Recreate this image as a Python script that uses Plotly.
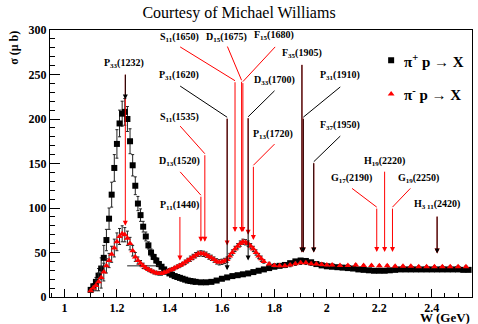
import plotly.graph_objects as go

# ---------------- data: pi+ p -> X (black squares) ----------------
W_pip = [1.10, 1.11, 1.12, 1.13, 1.14, 1.15, 1.16, 1.17, 1.18, 1.19,
         1.20, 1.21, 1.22, 1.23, 1.24, 1.25, 1.26, 1.27, 1.28, 1.29,
         1.30, 1.31, 1.32, 1.33, 1.34, 1.35, 1.36, 1.37, 1.38, 1.39,
         1.40, 1.41, 1.42, 1.43, 1.44, 1.45, 1.46, 1.47, 1.48, 1.49,
         1.50, 1.52, 1.54, 1.56, 1.58, 1.60, 1.62, 1.64, 1.66, 1.68,
         1.70, 1.72, 1.74, 1.76, 1.78, 1.80, 1.82, 1.84, 1.86, 1.88,
         1.90, 1.92, 1.94, 1.96, 1.98, 2.00, 2.02, 2.04, 2.06, 2.08,
         2.10, 2.12, 2.14, 2.16, 2.18, 2.20, 2.22, 2.24, 2.26, 2.28,
         2.30, 2.32, 2.34, 2.36, 2.38, 2.40, 2.42, 2.44, 2.46, 2.48,
         2.50, 2.52, 2.54]
sig_pip = [8, 12, 17, 24, 32, 44, 64, 88, 115, 145,
           172, 195, 206, 208, 200, 175, 148, 125, 105, 92,
           79, 68, 58, 50, 45, 41, 37, 34, 31, 28.5,
           26.5, 25, 23.5, 22.5, 21.5, 20.5, 19.5, 18.5, 18, 17.5,
           17, 16.5, 16.5, 17, 18.5, 20.5, 22, 23.5, 24.5, 25.5,
           26.5, 28, 29.5, 31, 32.5, 34, 35, 36, 38, 40,
           41, 40.5, 39, 37, 35.5, 34.5, 34, 33.5, 33, 32.5,
           32, 31, 30.5, 30, 29.5, 29.5, 29.5, 30, 30.5, 31,
           31, 31, 31, 31, 31, 31, 31, 31, 31, 31,
           31, 30.5, 30.5]
err_pip = [2, 3, 5, 8, 12, 14, 12, 12, 14, 15,
           16, 15, 14, 15, 14, 14, 12, 10, 8, 7,
           6, 5, 4, 4, 3, 3, 3, 2, 2, 2,
           2, 2, 2, 2, 2, 2, 2, 2, 1.5, 1.5,
           1.5, 1.5, 1.5, 1.5, 1.5, 1.5, 1.5, 1.5, 1.5, 1.5,
           1.5, 1.5, 1.5, 1.5, 1.5, 1.5, 1.5, 1.5, 1.5, 1.5,
           1.5, 1.5, 1.5, 1.5, 1.5, 1, 1, 1, 1, 1,
           1, 1, 1, 1, 1, 1, 1, 1, 1, 1,
           1, 1, 1, 1, 1, 1, 1, 1, 1, 1,
           1, 1, 1]

# ---------------- data: pi- p -> X (red triangles) ----------------
W_pim = [1.10, 1.11, 1.12, 1.13, 1.14, 1.15, 1.16, 1.17, 1.18, 1.19,
         1.20, 1.21, 1.22, 1.23, 1.24, 1.25, 1.26, 1.27, 1.28, 1.29,
         1.30, 1.31, 1.32, 1.33, 1.34, 1.35, 1.36, 1.37, 1.38, 1.39,
         1.40, 1.41, 1.42, 1.43, 1.44, 1.45, 1.46, 1.47, 1.48, 1.49,
         1.50, 1.51, 1.52, 1.53, 1.54, 1.55, 1.56, 1.57, 1.58, 1.59,
         1.60, 1.61, 1.62, 1.63, 1.64, 1.65, 1.66, 1.67, 1.68, 1.69,
         1.70, 1.71, 1.72, 1.73, 1.74, 1.75, 1.76, 1.78, 1.80, 1.82,
         1.84, 1.86, 1.88, 1.90, 1.92, 1.94, 1.96, 1.98, 2.00, 2.02,
         2.05, 2.08, 2.11, 2.14, 2.17, 2.20, 2.23, 2.26, 2.29, 2.32,
         2.35, 2.38, 2.41, 2.44, 2.47, 2.50, 2.53]
sig_pim = [7, 10, 13, 17, 22, 28, 35, 41, 48, 55,
           62, 68, 71, 70, 66, 60, 52, 45, 41, 38,
           35, 33, 31, 29.5, 28, 27, 26.5, 26.5, 27.5, 28.5,
           30, 31, 32.5, 34, 35.5, 37, 39, 41, 43, 45,
           47, 48.5, 49, 48.5, 47.5, 45.5, 44, 42, 40, 39,
           39.5, 40.5, 42, 46, 50, 54, 57, 60, 62, 61.5,
           60, 57, 54, 50, 46, 43, 40, 37, 35.5, 35,
           35, 36, 37.5, 38.5, 38.5, 37.5, 37, 36.5, 36, 36,
           35.5, 35.5, 36, 35.5, 35.5, 35, 35, 34.5, 34.5, 34.5,
           34, 34, 34, 34, 34, 34, 34]
err_pim = [2, 3, 6, 10, 12, 10, 8, 8, 9, 10,
           10, 9, 9, 8, 8, 7, 6, 5, 4, 3,
           3, 2, 2, 2, 2, 2, 2, 2, 2, 2,
           2, 2, 2, 2, 2, 2, 2.5, 2.5, 3, 3,
           3, 3, 3, 3, 3, 3, 3, 3, 3, 3,
           3, 3, 3, 3, 3, 3, 3, 3, 3, 3,
           3, 3, 3, 3, 3, 3, 2, 2, 2, 2,
           2, 2, 2, 2, 2, 2, 2, 2, 1.5, 1.5,
           1, 1, 1, 1, 1, 1, 1, 1, 1, 1,
           1, 1, 1, 1, 1, 1, 1]
errx_pim = [0.0] * 20 + [0.061] + [0.0] * 76

legend_text = ["π<sup>+</sup> p → X", "π<sup>-</sup> p → X"]

# ---------------- resonance labels ----------------
res_text = ["P<sub>33</sub>(1232)", "S<sub>11</sub>(1650)", "D<sub>15</sub>(1675)",
            "F<sub>15</sub>(1680)", "P<sub>31</sub>(1620)", "S<sub>11</sub>(1535)",
            "D<sub>13</sub>(1520)", "P<sub>11</sub>(1440)", "D<sub>33</sub>(1700)",
            "P<sub>13</sub>(1720)", "F<sub>35</sub>(1905)", "P<sub>31</sub>(1910)",
            "F<sub>37</sub>(1950)", "H<sub>19</sub>(2220)", "G<sub>17</sub>(2190)",
            "G<sub>19</sub>(2250)", "H<sub>3 11</sub>(2420)"]
res_mass = [1.232, 1.650, 1.675, 1.680, 1.620, 1.535, 1.520, 1.440, 1.700,
            1.720, 1.905, 1.910, 1.950, 2.220, 2.190, 2.250, 2.420]
res_color = ["black", "red", "red", "red", "black", "red", "red", "red", "black",
             "red", "black", "black", "black", "red", "red", "red", "black"]
res_label_W = [1.228, 1.437, 1.616, 1.800, 1.437, 1.437, 1.437, 1.437, 1.800,
               1.796, 1.906, 2.051, 2.051, 2.219, 2.093, 2.348, 2.421]
res_label_sig = [262.5, 292, 292, 294, 249, 202, 152.6, 103, 243.8,
                 183, 274, 249, 193, 152, 133, 133, 104]
res_start_W = [1.232, 1.441, 1.621, 1.803, 1.441, 1.441, 1.441, 1.440, 1.8006,
               1.8006, 1.905, 2.051, 2.051, 2.220, 2.096, 2.318, 2.420]
res_start_sig = [251.5, 281, 281.4, 281, 237, 192, 140.6, 91.6, 231.7,
                 171.8, 262.5, 236, 180.8, 142.5, 122, 122, 92]
res_bend_sig = [251.5, 243, 243.5, 242, 202, 161, 114.4, 91.6, 202.5,
                148, 262.5, 202, 152, 142.5, 101, 101, 92]
res_tip_red = [80, 73, 73, 73, 58, 62, 62, 41, 70,
               64, 50, 50, 50, 50.6, 50.6, 50.6, 49]
res_tip_black = [222, None, None, None, 30, None, None, None, 41,
                 None, 50, 50, 50, None, None, None, 49]

SERIF = "Liberation Serif"

fig = go.Figure()
fig.add_trace(go.Scatter(
    x=W_pip, y=sig_pip, mode="markers", name=" ",
    marker=dict(symbol="square", size=6, color="black"),
    error_y=dict(type="data", array=err_pip, color="#222", thickness=1, width=1.5),
    legendgroup="a", hoverinfo="skip"))
fig.add_trace(go.Scatter(
    x=W_pim, y=sig_pim, mode="markers", name=" ",
    marker=dict(symbol="triangle-up", size=6, color="#ff0000"),
    error_y=dict(type="data", array=err_pim, color="#222", thickness=1, width=1.5),
    error_x=dict(type="data", array=errx_pim, color="#222", thickness=1, width=0),
    legendgroup="b", hoverinfo="skip"))

shapes = []
annotations = []
for i in range(len(res_text)):
    col = "#ff0000" if res_color[i] == "red" else "black"
    annotations.append(dict(
        x=res_label_W[i], y=res_label_sig[i], xref="x", yref="y", text="<b>" + res_text[i] + "</b>",
        showarrow=False, xanchor="center", yanchor="middle",
        font=dict(family=SERIF, size=10, color="black")))
    if abs(res_start_W[i] - res_mass[i]) > 1e-6 or abs(res_start_sig[i] - res_bend_sig[i]) > 1e-6:
        shapes.append(dict(type="line", xref="x", yref="y",
                           x0=res_start_W[i], y0=res_start_sig[i],
                           x1=res_mass[i], y1=res_bend_sig[i],
                           line=dict(color=col, width=1)))
    tips = []
    if res_tip_red[i] is not None:
        tips.append((res_tip_red[i], "#ff0000"))
    if res_tip_black[i] is not None:
        tips.append((res_tip_black[i], "black"))
    for tip, c in tips:
        annotations.append(dict(
            x=res_mass[i], y=tip, ax=res_mass[i], ay=res_bend_sig[i],
            xref="x", yref="y", axref="x", ayref="y", text="",
            showarrow=True, arrowhead=2, arrowsize=1, arrowwidth=1,
            arrowcolor=c, standoff=0, startstandoff=0))

# legend texts (icons come from the plotly legend)
for txt, yp in zip(legend_text, [0.884, 0.760]):
    annotations.append(dict(x=0.835, y=yp, xref="paper", yref="paper", text="<b>" + txt + "</b>",
                            showarrow=False, xanchor="left", yanchor="middle",
                            font=dict(family=SERIF, size=15, color="black")))

# axis titles
annotations.append(dict(x=-0.085, y=1.005, xref="paper", yref="paper", text="<b>σ (μ b)</b>",
                        textangle=-90, showarrow=False, xanchor="center", yanchor="top",
                        font=dict(family=SERIF, size=12, color="black")))
annotations.append(dict(x=1.0, y=-0.077, xref="paper", yref="paper", text="<b>W (GeV)</b>",
                        showarrow=False, xanchor="right", yanchor="middle",
                        font=dict(family=SERIF, size=13, color="black")))

fig.update_layout(
    width=478, height=324,
    margin=dict(l=50, r=6, t=30, b=27),
    paper_bgcolor="white", plot_bgcolor="white",
    title=dict(text="Courtesy of Michael Williams", x=0.5, xref="container", xanchor="center",
               y=1 - 12 / 324, yref="container", yanchor="middle",
               font=dict(family=SERIF, size=16, color="black")),
    showlegend=True,
    legend=dict(x=0.761, y=0.95, xanchor="left", yanchor="top", bgcolor="rgba(0,0,0,0)",
                font=dict(family=SERIF, size=16, color="black"),
                tracegroupgap=10, itemsizing="trace"),
    shapes=shapes, annotations=annotations,
)
fig.update_xaxes(range=[0.945, 2.553], showgrid=False, zeroline=False,
                 showline=True, linecolor="black", linewidth=1, mirror=True,
                 ticks="inside", ticklen=8, tickcolor="black", dtick=0.2, tick0=1.0,
                 tickfont=dict(family=SERIF, size=12, color="black", weight="bold"),
                 minor=dict(dtick=0.05, ticks="inside", ticklen=4, tickcolor="black"))
fig.update_yaxes(range=[0, 300], showgrid=False, zeroline=False,
                 showline=True, linecolor="black", linewidth=1, mirror=True,
                 ticks="inside", ticklen=10, tickcolor="black", dtick=50,
                 tickfont=dict(family=SERIF, size=12, color="black", weight="bold"),
                 minor=dict(dtick=10, ticks="inside", ticklen=5, tickcolor="black"))

fig.write_html("out.html")
